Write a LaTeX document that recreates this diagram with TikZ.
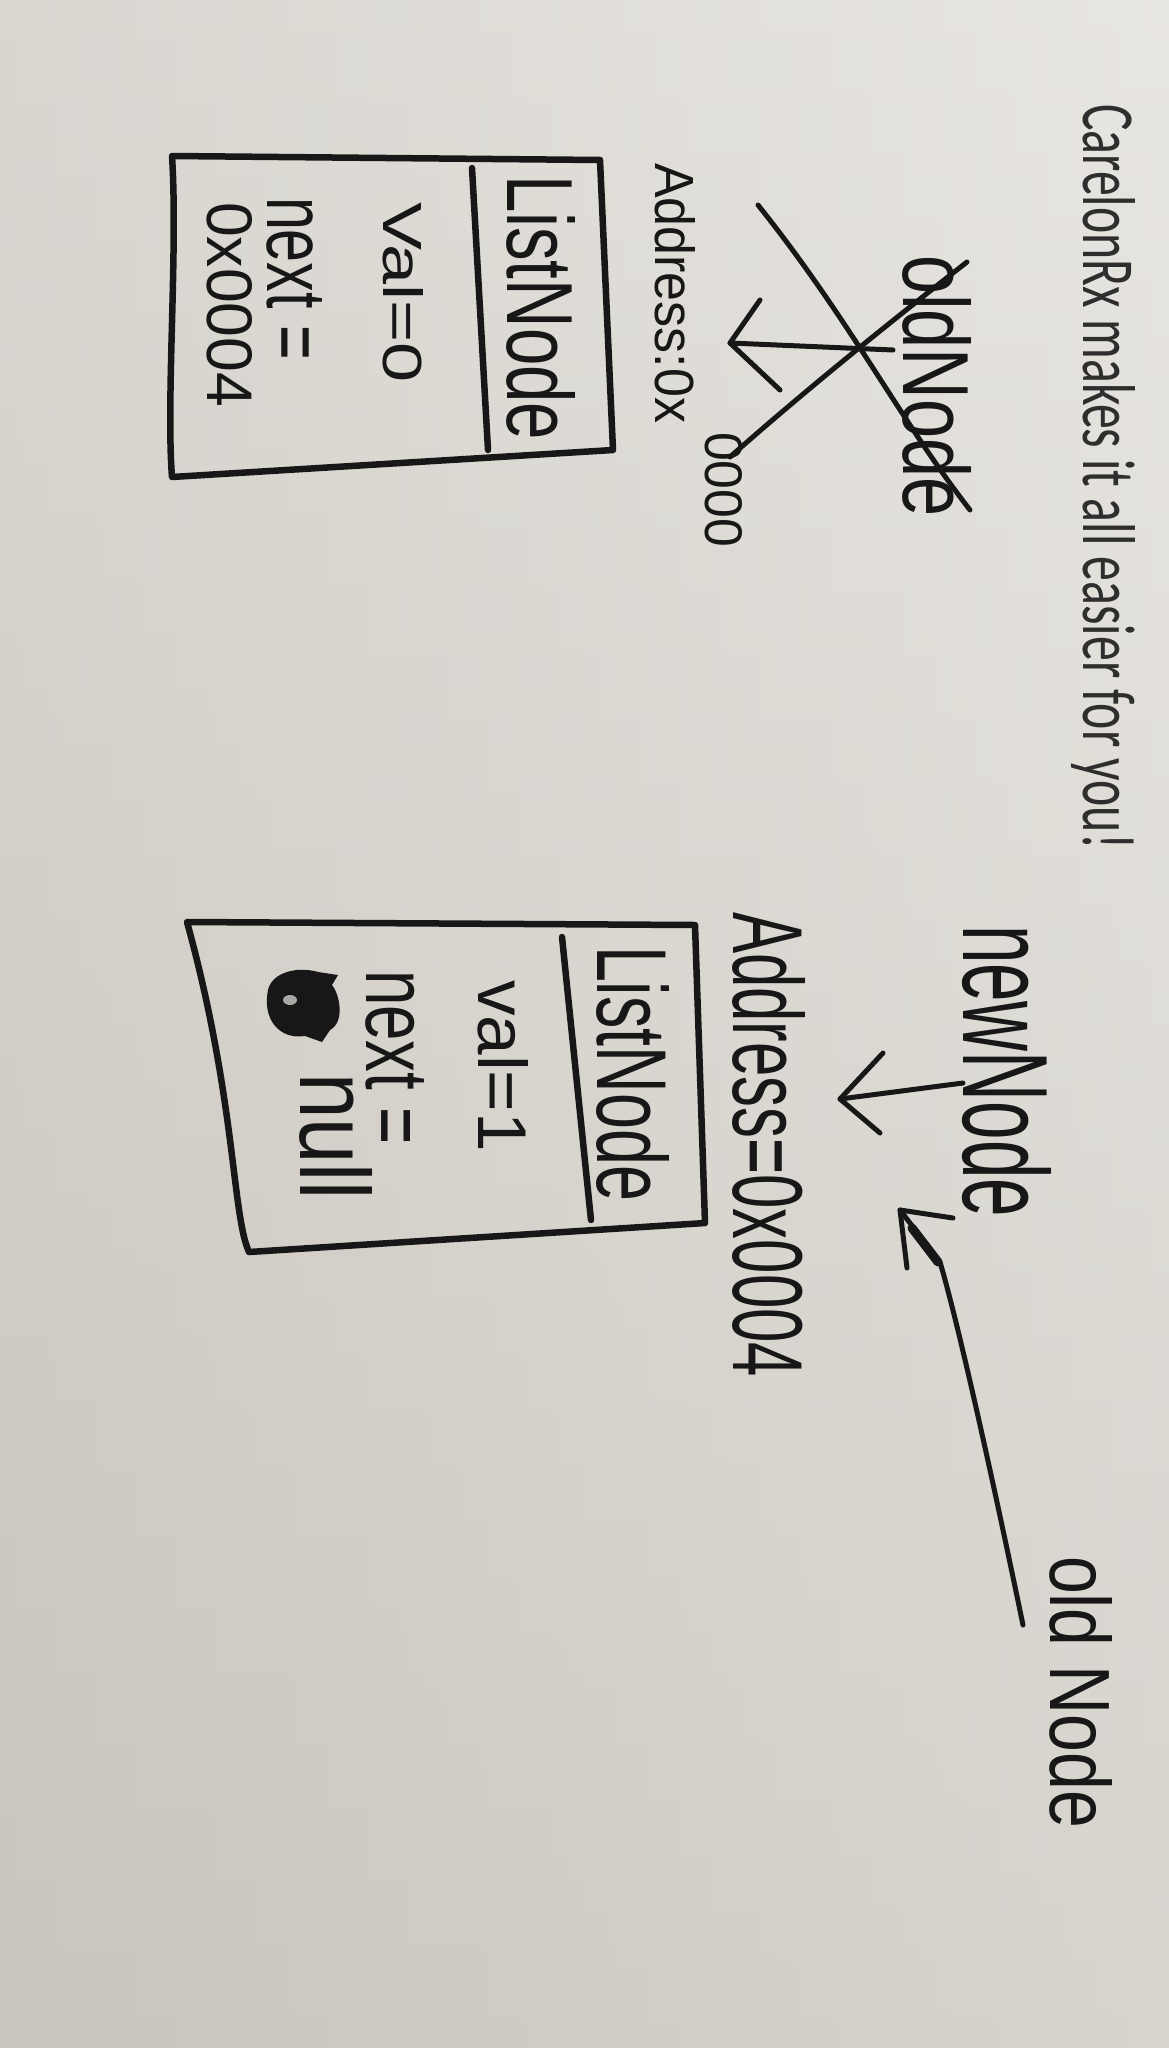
\documentclass[tikz,border=0pt]{standalone}
\usepackage{fontspec}
\setmainfont{Liberation Sans}
\newfontfamily\printfont{Carlito}
\usetikzlibrary{calc}
\definecolor{paperlight}{HTML}{E8E6E2}
\definecolor{paperdark}{HTML}{CAC5BD}
\definecolor{ink}{HTML}{171717}
% a label stretched to a given run length and letter height (in pt)
\newcommand{\penlabel}[3]{\resizebox{#1pt}{#2pt}{#3}}

\begin{document}
\begin{tikzpicture}[x=1pt,y=-1pt,
  pen/.style={draw=ink, line width=6.5pt, line cap=round, line join=round},
  finepen/.style={draw=ink, line width=5pt, line cap=round, line join=round},
  hand/.style={inner sep=0pt, outer sep=0pt, rotate=-90, anchor=base west, text=ink},
]
% sheet of paper
\useasboundingbox (0,0) rectangle (1169,2048);
\shade[top color=paperlight, bottom color=paperdark] (0,0) rectangle (1169,2048);
\shade[left color=paperdark, right color=paperlight, opacity=0.45] (0,0) rectangle (1169,2048);

% heading
\node[hand, text=ink!90] (title) at (1083,104) {\printfont\penlabel{745}{52}{CarelonRx makes it all easier for you!}};

% ---------------- old node ----------------
\node[hand] (oldlbl) at (903,255) {\penlabel{262}{68}{oldNode}};
\coordinate (crossA1) at (758,205);
\coordinate (crossA2) at (970,510);
\coordinate (crossB1) at (967,262);
\coordinate (crossB2) at (730,457);
\draw[finepen] (crossA1) .. controls (850,320) and (900,420) .. (crossA2);
\draw[finepen] (crossB1) .. controls (880,330) and (800,395) .. (crossB2);

\coordinate (oldtail) at (893,350);
\coordinate (oldtip) at (730,343);
\draw[finepen] (oldtail) -- (oldtip);
\draw[finepen] (760,300) -- (oldtip) -- (780,390);

\node[hand] (oldaddr) at (655,163) {\penlabel{260}{40}{Address:0x}};
\node[hand] (oldaddrB) at (705,432) {\penlabel{115}{37}{0000}};

% list node at 0x0000
\coordinate (b1tl) at (172,156);
\coordinate (b1tr) at (600,160);
\coordinate (b1br) at (613,450);
\coordinate (b1bl) at (172,477);
\draw[pen] (b1tl) -- (b1tr) -- (b1br) -- (b1bl) .. controls (166,400) and (178,250) .. cycle;
\draw[pen] (472,168) -- (488,450);
\node[hand] (b1name) at (507,175) {\penlabel{265}{68}{ListNode}};
\node[hand] (b1val) at (383,202) {\penlabel{181}{40}{Val=0}};
\node[hand] (b1next) at (267,197) {\penlabel{163}{55}{next =}};
\node[hand] (b1ptr) at (207,202) {\penlabel{205}{45}{0x0004}};

% ---------------- new node ----------------
\node[hand] (newlbl) at (963,925) {\penlabel{292}{88}{newNode}};
\coordinate (newtail) at (963,1083);
\coordinate (newtip) at (840,1099);
\draw[finepen] (newtail) -- (newtip);
\draw[finepen] (883,1053) -- (newtip) -- (880,1133);

\node[hand] (newaddr) at (733,912) {\penlabel{465}{72}{Address=0x0004}};

% the old reference now pointing at the new node
\coordinate (longtail) at (1023,1625);
\coordinate (longtip) at (900,1210);
\draw[finepen] (longtail) .. controls (995,1490) and (960,1330) .. (940,1262) -- (longtip);
\draw[pen, line width=9pt] (938,1262) -- (912,1228);
\draw[finepen] (953,1218) -- (longtip) -- (907,1268);
\node[hand] (oldref) at (1050,1556) {\penlabel{272}{62}{old Node}};

% list node at 0x0004
\coordinate (b2tl) at (187,922);
\coordinate (b2tr) at (695,925);
\coordinate (b2br) at (705,1223);
\coordinate (b2bl) at (249,1252);
\draw[pen] (b2tl) -- (b2tr) -- (b2br) -- (b2bl) .. controls (232,1215) and (236,1100) .. cycle;
\draw[pen] (562,937) -- (591,1220);
\node[hand] (b2name) at (597,946) {\penlabel{255}{72}{ListNode}};
\node[hand] (b2val) at (478,980) {\penlabel{172}{50}{val=1}};
\node[hand] (b2next) at (366,970) {\penlabel{175}{58}{next =}};
% scribbled-out character
\fill[ink] (268,990) .. controls (262,1020) and (280,1040) .. (305,1036)
  -- (322,1042) -- (330,1030) .. controls (345,1022) and (340,995) .. (332,985)
  -- (338,975) -- (318,972) .. controls (298,966) and (272,972) .. cycle;
\fill[paperlight!70!ink] (290,1000) ellipse [x radius=7, y radius=5];
\node[hand] (b2ptr) at (300,1073) {\penlabel{127}{72}{null}};
\end{tikzpicture}
\end{document}
